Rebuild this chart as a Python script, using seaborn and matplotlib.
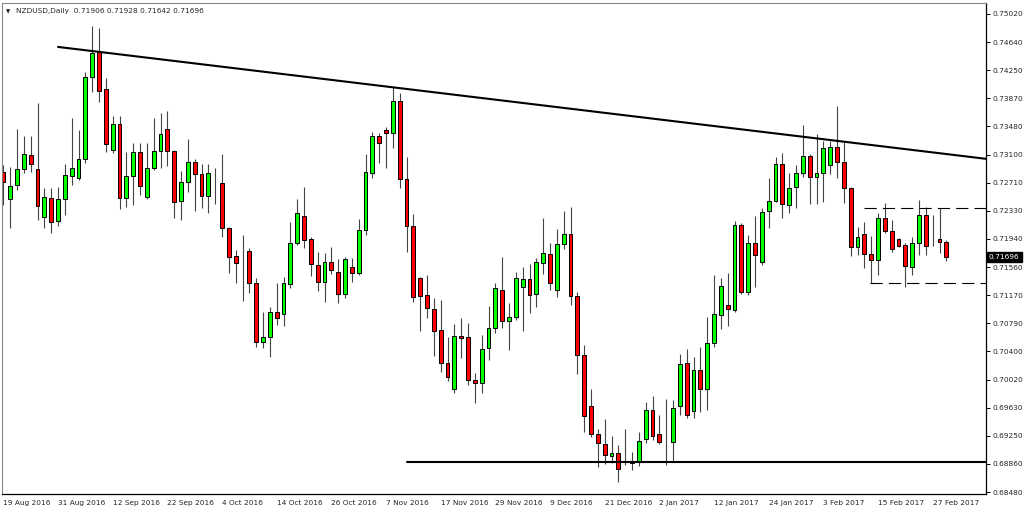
import numpy as np
import pandas as pd
import seaborn as sns
import matplotlib
matplotlib.use('Agg')
import matplotlib.pyplot as plt

# daily OHLC for NZDUSD, 19 Aug 2016 to 1 Mar 2017
opens = [0.72859, 0.72490, 0.72682, 0.72900, 0.73092, 0.72900, 0.72243, 0.72504, 0.72188, 0.72490,
         0.72804, 0.72777, 0.73037, 0.74158, 0.74501, 0.73995, 0.73160, 0.73515, 0.72504, 0.72804,
         0.73133, 0.72517, 0.72914, 0.73146, 0.73447, 0.73146, 0.72462, 0.72723, 0.72996, 0.72831,
         0.72531, 0.72723, 0.72709, 0.72093, 0.71710, 0.71628, 0.71778, 0.71341, 0.70534, 0.70602,
         0.70944, 0.70916, 0.71327, 0.71888, 0.72257, 0.71943, 0.71587, 0.71355, 0.71628, 0.71491,
         0.71190, 0.71559, 0.71477, 0.72066, 0.72845, 0.73352, 0.73434, 0.73393, 0.73830, 0.72763,
         0.72120, 0.71409, 0.71177, 0.70985, 0.70698, 0.70246, 0.69891, 0.70616, 0.70602, 0.70014,
         0.69973, 0.70452, 0.70725, 0.71245, 0.70820, 0.70875, 0.71286, 0.71395, 0.71190, 0.71614,
         0.71737, 0.71245, 0.71874, 0.72011, 0.71163, 0.70356, 0.69658, 0.69275, 0.69138, 0.68974,
         0.69015, 0.68892, 0.68905, 0.68892, 0.69207, 0.69603, 0.69275, 0.69166, 0.69166, 0.69658,
         0.70246, 0.69589, 0.70150, 0.69891, 0.70520, 0.70903, 0.71040, 0.70971, 0.72134, 0.71218,
         0.71888, 0.71628, 0.72325, 0.72462, 0.72968, 0.72408, 0.72654, 0.72845, 0.73078, 0.72790,
         0.72845, 0.72955, 0.73201, 0.72996, 0.72641, 0.71833, 0.72011, 0.71737, 0.71655, 0.72230,
         0.72052, 0.71943, 0.71861, 0.71559, 0.71888, 0.72271, 0.71943, 0.71943, 0.71906]
highs = [0.72955, 0.72927, 0.73447, 0.73352, 0.73352, 0.73803, 0.72641, 0.72641, 0.72654, 0.72968,
         0.73598, 0.73434, 0.74227, 0.74856, 0.74829, 0.74145, 0.73625, 0.73625, 0.73133, 0.73256,
         0.73256, 0.73256, 0.73598, 0.73666, 0.73693, 0.73160, 0.72872, 0.73311, 0.73037, 0.72968,
         0.72968, 0.72914, 0.73105, 0.72106, 0.71792, 0.71998, 0.71820, 0.71409, 0.70944, 0.71012,
         0.71341, 0.71422, 0.72175, 0.72490, 0.72654, 0.71970, 0.71765, 0.71751, 0.71833, 0.71669,
         0.71696, 0.71683, 0.72216, 0.73105, 0.73407, 0.73393, 0.73474, 0.74022, 0.73940, 0.73064,
         0.72284, 0.71422, 0.71450, 0.71136, 0.71108, 0.70602, 0.70779, 0.70862, 0.70793, 0.70109,
         0.70630, 0.71026, 0.71341, 0.71696, 0.71067, 0.71491, 0.71559, 0.71600, 0.71683, 0.72230,
         0.71888, 0.72079, 0.72325, 0.72380, 0.71218, 0.70493, 0.69891, 0.69343, 0.69480, 0.69248,
         0.69125, 0.69343, 0.69029, 0.69303, 0.69713, 0.69795, 0.69535, 0.69754, 0.69740, 0.70369,
         0.70438, 0.70328, 0.70465, 0.70875, 0.71450, 0.71409, 0.71477, 0.72188, 0.72161, 0.71998,
         0.72257, 0.72367, 0.72777, 0.73064, 0.73119, 0.72845, 0.72955, 0.73502, 0.73105, 0.73379,
         0.73283, 0.73283, 0.73762, 0.73270, 0.72654, 0.72106, 0.72175, 0.71984, 0.72298, 0.72435,
         0.72202, 0.71956, 0.71888, 0.71970, 0.72476, 0.72380, 0.72271, 0.72367, 0.71928]
lows = [0.72408, 0.72093, 0.72613, 0.72845, 0.72859, 0.72202, 0.72093, 0.72025, 0.72120, 0.72271,
        0.72682, 0.72750, 0.72982, 0.73954, 0.73817, 0.73133, 0.73119, 0.72353, 0.72380, 0.72408,
        0.72545, 0.72490, 0.72886, 0.72914, 0.72941, 0.72230, 0.72202, 0.72586, 0.72325, 0.72367,
        0.72298, 0.72421, 0.71970, 0.71477, 0.71341, 0.71094, 0.71204, 0.70465, 0.70452, 0.70328,
        0.70766, 0.70752, 0.71273, 0.71861, 0.71820, 0.71436, 0.71231, 0.71081, 0.71463, 0.71067,
        0.71136, 0.71355, 0.71450, 0.71998, 0.72777, 0.72982, 0.72914, 0.73188, 0.72641, 0.71765,
        0.71081, 0.70684, 0.70862, 0.70342, 0.70123, 0.70000, 0.69836, 0.70315, 0.69946, 0.69699,
        0.69836, 0.70287, 0.70657, 0.70725, 0.70424, 0.70834, 0.70684, 0.70930, 0.71012, 0.71463,
        0.71245, 0.71149, 0.71806, 0.71040, 0.70095, 0.69303, 0.69234, 0.68823, 0.68864, 0.68878,
        0.68619, 0.68851, 0.68782, 0.68837, 0.69152, 0.69193, 0.69138, 0.68851, 0.68892, 0.69535,
        0.69494, 0.69494, 0.69576, 0.69603, 0.70465, 0.70711, 0.70752, 0.70944, 0.71190, 0.71177,
        0.71286, 0.71587, 0.72093, 0.72449, 0.72230, 0.72298, 0.72367, 0.72790, 0.72421, 0.72421,
        0.72449, 0.72831, 0.72777, 0.72435, 0.71710, 0.71724, 0.71546, 0.71341, 0.71450, 0.72025,
        0.71765, 0.71833, 0.71286, 0.71450, 0.71724, 0.71724, 0.71847, 0.71751, 0.71642]
closes = [0.72723, 0.72668, 0.72900, 0.73105, 0.72968, 0.72394, 0.72517, 0.72175, 0.72490, 0.72818,
          0.72914, 0.73037, 0.74158, 0.74487, 0.73967, 0.73242, 0.73515, 0.72504, 0.72804, 0.73133,
          0.72668, 0.72914, 0.73146, 0.73379, 0.73146, 0.72449, 0.72723, 0.72996, 0.72831, 0.72531,
          0.72845, 0.72723, 0.72093, 0.71696, 0.71614, 0.71628, 0.71341, 0.70534, 0.70602, 0.70944,
          0.70862, 0.71341, 0.71888, 0.72298, 0.71929, 0.71600, 0.71355, 0.71628, 0.71518, 0.71190,
          0.71669, 0.71477, 0.72066, 0.72859, 0.73352, 0.73256, 0.73393, 0.73830, 0.72763, 0.72120,
          0.71149, 0.71163, 0.70999, 0.70684, 0.70246, 0.70054, 0.70616, 0.70589, 0.70014, 0.69973,
          0.70438, 0.70725, 0.71273, 0.70820, 0.70875, 0.71409, 0.71395, 0.71177, 0.71628, 0.71751,
          0.71341, 0.71874, 0.72011, 0.71163, 0.70356, 0.69521, 0.69275, 0.69152, 0.68988, 0.69015,
          0.68796, 0.68892, 0.68878, 0.69179, 0.69603, 0.69248, 0.69166, 0.69166, 0.69631, 0.70232,
          0.69535, 0.70150, 0.69891, 0.70520, 0.70916, 0.71300, 0.70985, 0.72134, 0.71218, 0.71888,
          0.71724, 0.72312, 0.72462, 0.72968, 0.72421, 0.72641, 0.72845, 0.73078, 0.72790, 0.72845,
          0.73188, 0.73201, 0.72996, 0.72641, 0.71833, 0.71970, 0.71737, 0.71655, 0.72230, 0.72052,
          0.71806, 0.71847, 0.71573, 0.71888, 0.72271, 0.71847, 0.71943, 0.71902, 0.71696]

date_labels = ['19 Aug 2016', '31 Aug 2016', '12 Sep 2016', '22 Sep 2016', '4 Oct 2016',
               '14 Oct 2016', '26 Oct 2016', '7 Nov 2016', '17 Nov 2016', '29 Nov 2016',
               '9 Dec 2016', '21 Dec 2016', '2 Jan 2017', '12 Jan 2017', '24 Jan 2017',
               '3 Feb 2017', '15 Feb 2017', '27 Feb 2017']
price_labels = ['0.68480', '0.68860', '0.69250', '0.69630', '0.70020', '0.70400', '0.70790',
                '0.71170', '0.71560', '0.71940', '0.72330', '0.72710', '0.73100', '0.73480',
                '0.73870', '0.74250', '0.74640', '0.75020']

# drawn lines: (bar index, price)
trend_x = [8, 144]
trend_y = [0.74569, 0.73036]
support_x = [59, 144]
support_y = [0.68890, 0.68890]
range_top_x = [125.9, 144]
range_top_y = [0.72366, 0.72366]
range_bot_x = [126.8, 144]
range_bot_y = [0.71340, 0.71340]

df = pd.DataFrame({'open': opens, 'high': highs, 'low': lows, 'close': closes})
df['bar'] = np.arange(len(df))

sns.set_style('white')
plt.rcParams['font.family'] = ['DejaVu Sans']

fig = plt.figure(figsize=(10.24, 5.12), dpi=100)
ax = fig.add_axes([2 / 1024, 18 / 512, 984 / 1024, 491 / 512])

# wicks
ax.vlines(df['bar'], df['low'], df['high'], color='#444444', linewidth=0.8, zorder=1)

# bodies
up = df[df['close'] > df['open']]
down = df[df['close'] < df['open']]
flat = df[df['close'] == df['open']]
ax.bar(up['bar'], up['close'] - up['open'], bottom=up['open'], width=0.56,
       color='#00ff00', edgecolor='black', linewidth=0.7, zorder=2)
ax.bar(down['bar'], down['open'] - down['close'], bottom=down['close'], width=0.56,
       color='#ff0000', edgecolor='black', linewidth=0.7, zorder=2)
ax.hlines(flat['bar'], flat['bar'] - 0.3, flat['bar'] + 0.3, color='black', linewidth=0.9, zorder=2)

# trend / support / range lines
sns.lineplot(x=trend_x, y=trend_y, color='black', linewidth=1.5, ax=ax)
sns.lineplot(x=support_x, y=support_y, color='black', linewidth=1.5, ax=ax)
sns.lineplot(x=range_top_x, y=range_top_y, color='black', linewidth=0.8, linestyle=(0, (11, 5.5)), ax=ax)
sns.lineplot(x=range_bot_x, y=range_bot_y, color='black', linewidth=0.8, linestyle=(0, (11, 5.5)), ax=ax)

ax.set_xlim(-0.2, 143.8)
ax.set_ylim(0.68453, 0.75170)

ax.set_xticks(np.arange(len(date_labels)) * 8)
ax.set_xticklabels(date_labels, ha='left', fontsize=5.3)
ax.set_yticks(np.linspace(0.68480, 0.75020, len(price_labels)))
ax.set_yticklabels(price_labels, fontsize=5.3)
ax.yaxis.tick_right()
ax.tick_params(axis='both', direction='out', length=3, width=0.7, color='black', pad=1.5)
ax.tick_params(axis='x', pad=1.5)

for side in ['left', 'top']:
    ax.spines[side].set_color('#888888')
    ax.spines[side].set_linewidth(0.8)
for side in ['right', 'bottom']:
    ax.spines[side].set_color('black')
    ax.spines[side].set_linewidth(0.9)

# header and current price tag
ax.text(0.004, 0.988, '\u25bc', transform=ax.transAxes, fontsize=4, va='top', ha='left')
ax.text(0.014, 0.99, 'NZDUSD,Daily  0.71906 0.71928 0.71642 0.71696', transform=ax.transAxes,
        fontsize=5.3, va='top', ha='left')
ax.annotate(f'{closes[-1]:.5f}', xy=(1.0, closes[-1]), xycoords=('axes fraction', 'data'),
            xytext=(2, 0), textcoords='offset points', fontsize=5.3, color='white', va='center',
            ha='left', bbox=dict(boxstyle='square,pad=0.3', fc='black', ec='black'))

fig.savefig('out.png', dpi=100, facecolor='white')
